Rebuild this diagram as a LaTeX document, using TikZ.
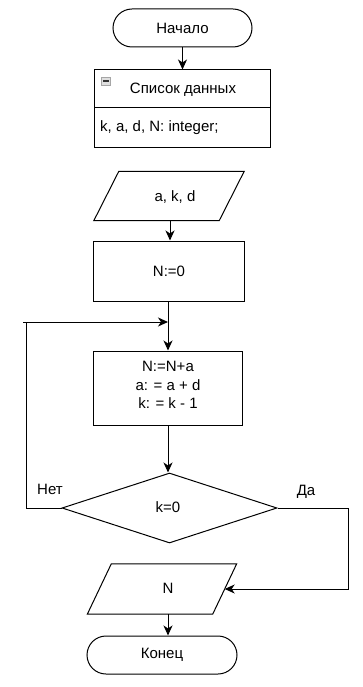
\documentclass[tikz,border=0pt]{standalone}
\usepackage{fontspec}
\setmainfont{Liberation Sans}
\usetikzlibrary{shapes.geometric,arrows.meta,calc}
\begin{document}
\begin{tikzpicture}[x=1pt,y=-1pt,
  every node/.style={font=\fontsize{15}{19}\selectfont},
  base/.style={draw=black,line width=1pt,inner sep=0pt},
  term/.style={base,rectangle,rounded corners=19pt,minimum height=38pt},
  proc/.style={base,rectangle},
  iocore/.style={rectangle,inner sep=0pt,minimum width=125pt},
  dec/.style={base,diamond,minimum width=215pt,minimum height=70pt},
  arr/.style={line width=1pt,-{Stealth[length=10pt,width=9pt,inset=3pt]}},
  ln/.style={line width=1pt},
  lbl/.style={inner sep=0pt}
]
\useasboundingbox (0,0) rectangle (363,687);

\node[term,minimum width=139pt] (start) at (182.5,28) {Начало};

\node[proc,minimum width=176pt,minimum height=38pt] (lh) at (182,89) {};
\node[lbl] (lht) at (183,90) {Список данных};
\node[proc,minimum width=176pt,minimum height=40pt] (lb) at (182,128) {};
\node[lbl,anchor=west] (lbt) at (100,128) {k, a, d, N: integer;};
\node[draw=gray!70,fill=gray!25,minimum width=9pt,minimum height=8pt,inner sep=0pt] (icon) at (106,81) {};
\draw[line width=1.2pt,gray!40!black] ($(icon.west)+(2,0)$) -- ($(icon.east)+(-2,0)$);

\node[iocore,minimum height=49pt] (akd) at (169,196) {};
\node[lbl] (akdt) at (175,197) {a, k, d};
\draw[ln,line join=miter] ($(akd.south west)+(-12.5,0)$) -- ($(akd.north west)+(12.5,0)$) -- ($(akd.north east)+(12.5,0)$) -- ($(akd.south east)+(-12.5,0)$) -- cycle;

\node[proc,minimum width=151pt,minimum height=60pt] (n0) at (169,271) {N:=0};

\node[proc,minimum width=149pt,minimum height=74pt,align=center] (b2) at (168,388) {};
\node[lbl,align=center] (b2t) at (168,385) {N:=N+a\\[-0.5pt]a: = a + d\\[-0.5pt]k: = k - 1};

\node[dec] (d) at (169.5,508) {};
\node[lbl] (dt) at (168,507) {k=0};

\node[iocore,minimum height=50pt] (outN) at (162,589) {};
\node[lbl] (outNt) at (168,588) {N};
\draw[ln,line join=miter] ($(outN.south west)+(-12,0)$) -- ($(outN.north west)+(12,0)$) -- ($(outN.north east)+(12,0)$) -- ($(outN.south east)+(-12,0)$) -- cycle;

\node[term,minimum width=150pt] (fin) at (162,655) {Конец};

\node[lbl] (net) at (50,489) {Нет};
\node[lbl] (da) at (306,492) {Да};

\coordinate (join) at (168,322);

\draw[arr] (start.south) -- (lh.north -| start.south);
\draw[arr] (akd.south -| 170,0) -- (n0.north -| 170,0);
\draw[ln] (n0.south -| b2.north) -- (join);
\draw[arr] (join) -- (b2.north);
\draw[arr] (b2.south) -- (d.north -| b2.south);
\draw[arr] (d.west) -- (26,508) -- (26,322) -- (join);
\draw[ln] (23,322) -- (26,322);
\draw[arr] (d.east) -- (348,508) |- (outN.east);
\draw[arr] (outN.south -| b2.south) -- (fin.north -| b2.south);
\end{tikzpicture}
\end{document}
